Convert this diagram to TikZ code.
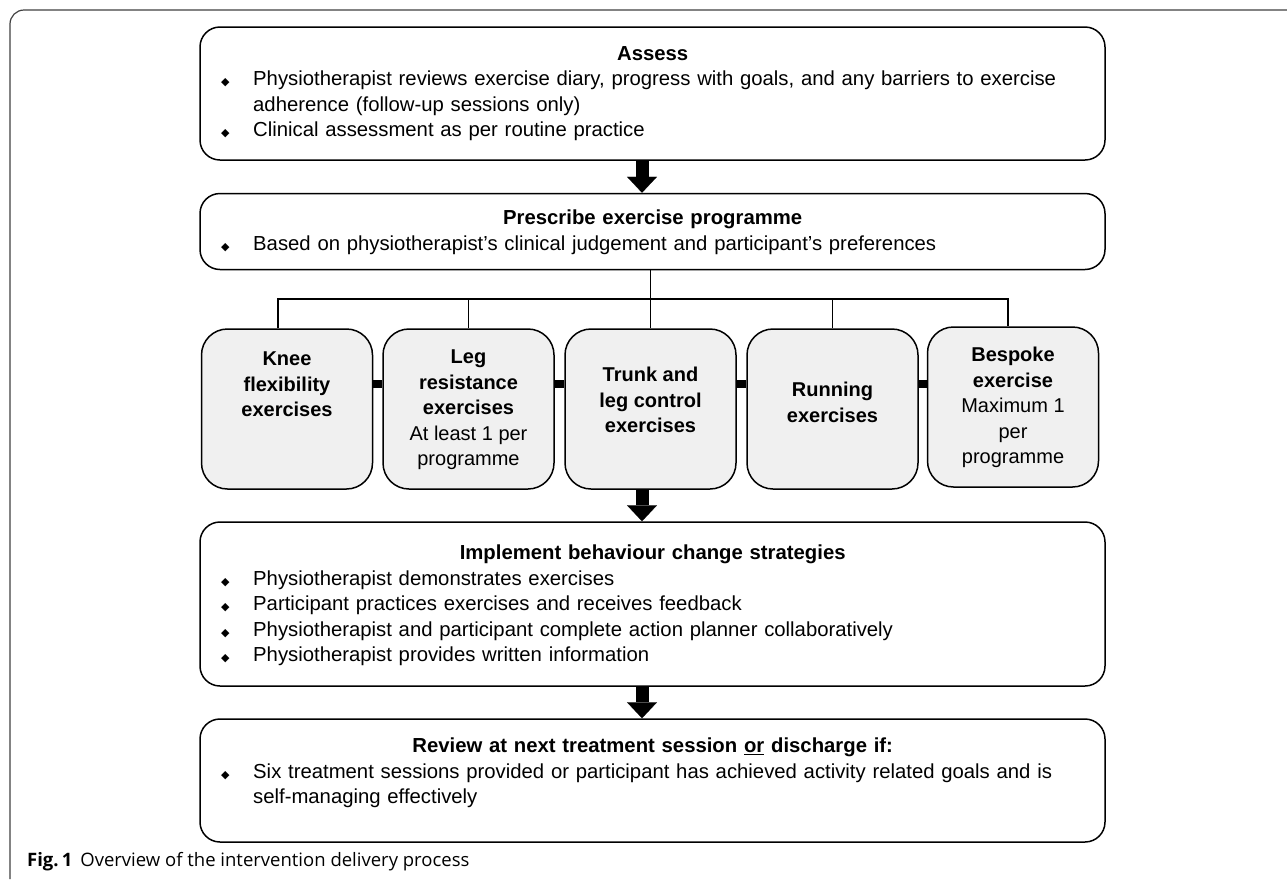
\documentclass[tikz,border=0pt]{standalone}
\usepackage{fontspec}
\setmainfont{Liberation Sans}
\newfontfamily\symfont{DejaVu Sans}
\newfontfamily\capfont{Open Sans}
\usetikzlibrary{arrows.meta}

% bullet with hanging indent
\newcommand{\bul}{\par\hangindent=33pt\hangafter=1\noindent\makebox[33pt][l]{\hspace{1pt}{\symfont\fontsize{11}{11}\selectfont\char"25C6}}}

\begin{document}
\begin{tikzpicture}[x=1pt,y=-1pt,
    box/.style={draw,line width=1.5pt,rounded corners=20pt,minimum width=905pt,inner sep=0pt},
    exbox/.style={draw,line width=1.5pt,rounded corners=26pt,fill=black!6,minimum width=171pt,minimum height=160pt,inner sep=0pt},
    boxtext/.style={anchor=north west,inner sep=0pt,text width=865pt,align=left,font=\fontsize{20.3}{25.5}\selectfont},
    extext/.style={anchor=north,inner sep=0pt,align=center,font=\fontsize{20}{25.5}\selectfont},
    bigarrow/.style={line width=13pt,-{Triangle[width=30pt,length=16pt,line width=0.1pt]}},
    tree/.style={line width=1.3pt},
    joint/.style={line width=8pt},
    frame/.style={line width=1.2pt,draw=black!75,rounded corners=14pt}]
    \useasboundingbox (0,0) rectangle (1287,879);
    % \draw[help lines,step=50] (0,0) grid (1287,879);

    \draw[frame] (1287,10) -| (10,879);

    % main steps
    \node[box,minimum height=133pt] (assess) at (652.5,93.5) {};
    \node[box,minimum height=76pt] (prescribe) at (652.5,231.5) {};
    \node[box,minimum height=164pt] (implement) at (652.5,604) {};
    \node[box,minimum height=123pt] (review) at (652.5,780.5) {};

    \node[boxtext] (assesstxt) at (220,46) {{\bfseries\centering Assess\par}%
        \bul\mbox{Physiotherapist reviews exercise diary, progress with goals, and any barriers to exercise}\newline adherence (follow-up sessions only)%
        \bul Clinical assessment as per routine practice\par};
    \node[boxtext] (prescribetxt) at (220,210) {{\bfseries\centering Prescribe exercise programme\par}%
        \bul Based on physiotherapist’s clinical judgement and participant’s preferences\par};
    \node[boxtext] (implementtxt) at (220,545) {{\bfseries\centering Implement behaviour change strategies\par}%
        \bul Physiotherapist demonstrates exercises%
        \bul Participant practices exercises and receives feedback%
        \bul Physiotherapist and participant complete action planner collaboratively%
        \bul Physiotherapist provides written information\par};
    \node[boxtext] (reviewtxt) at (220,738) {{\bfseries\centering Review at next treatment session \underline{or} discharge if:\par}%
        \bul\mbox{Six treatment sessions provided or participant has achieved activity related goals and is}\newline self-managing effectively\par};

    % exercise types
    \node[exbox] (knee) at (287,409) {};
    \node[exbox] (leg) at (468.5,409) {};
    \node[exbox] (trunk) at (650.5,409) {};
    \node[exbox] (running) at (832.5,409) {};
    \node[exbox] (bespoke) at (1013,407) {};

    \node[extext] (kneetxt) at (287,352) {\textbf{Knee}\\\textbf{flexibility}\\\textbf{exercises}};
    \node[extext] (legtxt) at (468.5,350) {\textbf{Leg}\\\textbf{resistance}\\\textbf{exercises}\\At least 1 per\\programme};
    \node[extext] (trunktxt) at (650.5,367) {\textbf{Trunk and}\\\textbf{leg control}\\\textbf{exercises}};
    \node[extext] (runningtxt) at (832.5,382) {\textbf{Running}\\\textbf{exercises}};
    \node[extext] (bespoketxt) at (1013,347) {\textbf{Bespoke}\\\textbf{exercise}\\Maximum 1\\per\\programme};

    \foreach \a/\b in {knee/leg,leg/trunk,trunk/running,running/bespoke}
        \draw[joint] (\a.east |- 0,384) -- (\b.west |- 0,384);

    % branches
    \coordinate (bus) at (650,299);
    \draw[tree] (prescribe.south -| trunk.north) -- (trunk.north);
    \draw[tree] ([xshift=-9pt]knee.north) |- (bus) -| ([xshift=-5pt]bespoke.north);
    \foreach \b in {leg,running}
        \draw[tree] (\b.north) -- (\b.north |- bus);

    % block arrows
    \coordinate (axis) at (642,0);
    \draw[bigarrow] (assess.south -| axis) -- (prescribe.north -| axis);
    \draw[bigarrow] (trunk.south -| axis) -- (implement.north -| axis);
    \draw[bigarrow] (implement.south -| axis) -- (review.north -| axis);

    \node[anchor=base west,inner sep=0pt,font=\capfont\fontsize{18.5}{22}\selectfont] (caption) at (27,866)
        {\textbf{Fig.\,1}\hspace{8pt}Overview of the intervention delivery process};
\end{tikzpicture}
\end{document}
